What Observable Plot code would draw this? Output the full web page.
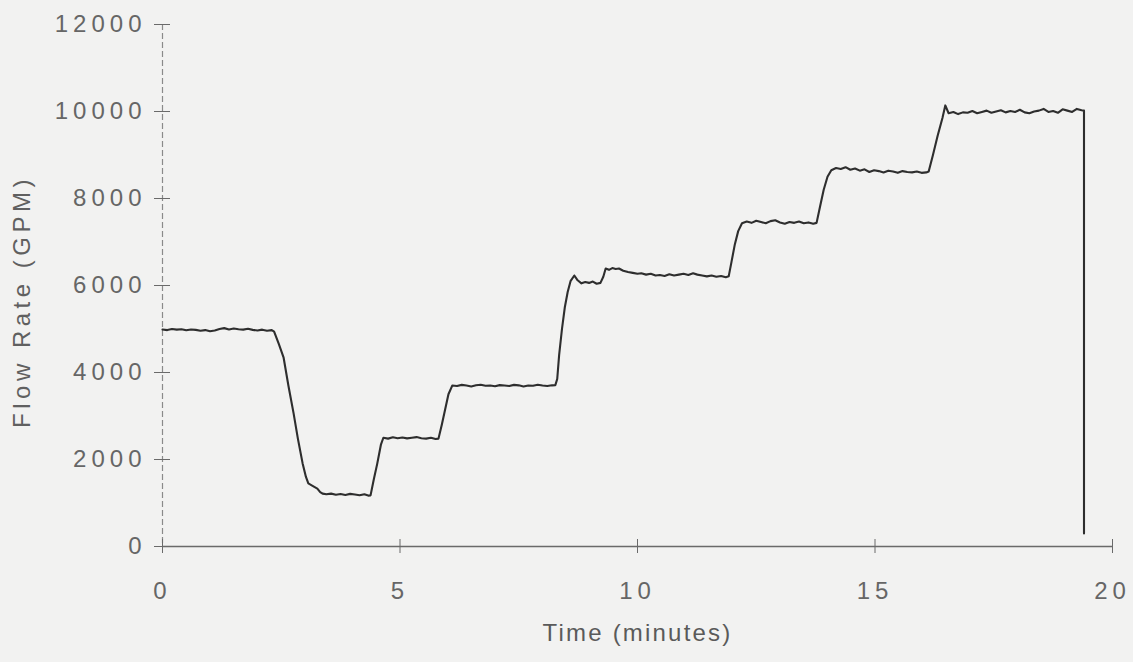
<!DOCTYPE html>
<html>
<head>
<meta charset="utf-8">
<script src="https://cdn.jsdelivr.net/npm/d3@7"></script>
<script src="https://cdn.jsdelivr.net/npm/@observablehq/plot@0.6"></script>
<style>
  html, body { margin: 0; padding: 0; background: #f2f2f1; }
  #chart svg { display: block; }
  g[aria-label="y-axis tick label"] text { letter-spacing: 5px; }
  g[aria-label="x-axis tick label"] text { letter-spacing: 5px; }
</style>
</head>
<body>
<div id="chart"></div>
<script>
// Tick values
const xTicks = [0, 5, 10, 15, 20];
const yTicks = [0, 2000, 4000, 6000, 8000, 10000, 12000];
const xTitle = "Time (minutes)";
const yTitle = "Flow Rate (GPM)";

// Time (minutes)
const timeMin = [
  0.0,0.1,0.2,0.3,0.4,0.5,0.6,0.7,0.8,0.9,1.0,1.1,1.2,1.3,1.4,1.5,1.6,1.7,1.8,1.9,2.0,2.1,2.2,2.3,
  2.35,2.45,2.55,2.65,2.76,2.85,2.95,3.02,3.07,3.15,3.26,3.32,
  3.37,3.45,3.55,3.65,3.75,3.85,3.95,4.05,4.15,4.25,4.33,4.38,
  4.45,4.52,4.60,4.65,
  4.75,4.85,4.95,5.05,5.15,5.25,5.35,5.45,5.55,5.65,5.75,5.81,
  5.88,5.95,6.02,6.10,
  6.2,6.3,6.4,6.5,6.6,6.7,6.8,6.9,7.0,7.1,7.2,7.3,7.4,7.5,7.6,7.7,7.8,7.9,8.0,8.1,8.2,
  8.27,8.31,8.35,8.41,8.47,8.53,8.59,8.67,
  8.74,8.82,8.90,8.98,9.06,9.14,9.22,9.28,9.33,9.40,9.47,9.54,9.61,9.70,9.80,9.90,10.00,10.08,10.18,10.28,
  10.38,10.47,10.57,10.67,10.77,10.87,10.97,11.07,11.17,11.26,11.36,11.46,11.56,11.66,11.76,11.86,11.92,
  11.98,12.05,12.12,12.20,
  12.3,12.4,12.5,12.6,12.7,12.8,12.9,13.0,13.1,13.2,13.3,13.4,13.5,13.6,13.7,13.77,
  13.84,13.92,14.00,14.08,
  14.18,14.28,14.38,14.48,14.58,14.68,14.78,14.88,14.98,15.08,15.18,15.28,15.38,15.48,15.58,15.68,15.78,15.88,15.98,16.08,
  16.13,16.22,16.32,16.42,16.48,
  16.55,16.65,16.75,16.85,16.95,17.05,17.15,17.25,17.35,17.45,17.55,17.65,17.75,17.85,17.95,
  18.05,18.15,18.25,18.35,18.45,18.55,18.65,18.75,18.85,18.95,19.05,19.15,19.25,19.35,19.40,
  19.40
];

// Flow rate (GPM)
const flowGpm = [
  4990,4975,5000,4985,4995,4970,4990,4980,4960,4975,4950,4965,5000,5020,4990,5010,4995,4985,5005,4980,4965,4985,4960,4975,
  4940,4650,4340,3700,3060,2480,1910,1600,1450,1400,1330,1250,
  1215,1200,1215,1190,1205,1185,1210,1195,1180,1200,1170,1175,
  1550,1900,2350,2500,
  2480,2510,2490,2505,2485,2500,2515,2490,2480,2500,2470,2480,
  2800,3150,3500,3700,
  3690,3715,3700,3680,3705,3720,3695,3700,3685,3710,3700,3690,3715,3705,3680,3700,3695,3720,3700,3690,3705,
  3710,3850,4400,5000,5500,5850,6100,6230,
  6120,6050,6080,6060,6090,6040,6060,6200,6390,6360,6400,6380,6390,6340,6310,6290,6270,6280,6250,6270,
  6230,6240,6220,6260,6230,6250,6270,6240,6280,6250,6230,6210,6230,6200,6220,6190,6210,
  6550,6950,7250,7430,
  7470,7440,7490,7460,7430,7480,7500,7450,7420,7460,7440,7470,7430,7450,7420,7440,
  7800,8200,8500,8650,
  8700,8680,8720,8660,8690,8640,8670,8610,8650,8630,8600,8640,8620,8590,8630,8610,8600,8620,8590,8600,
  8620,9000,9450,9850,10140,
  9960,9990,9940,9980,9970,10010,9960,9990,10020,9970,10000,10030,9980,10010,9990,
  10040,9980,9960,10000,10020,10060,9990,10010,9970,10050,10020,9990,10060,10030,10020,
  300
];

const trace = timeMin.map((t, i) => ({t, flow: flowGpm[i]}));

const chart = Plot.plot({
  width: 1133,
  height: 662,
  marginLeft: 162,
  marginRight: 21,
  marginTop: 24,
  marginBottom: 116,
  style: {background: "#f2f2f1", fontFamily: "'Liberation Sans', Arial, sans-serif"},
  x: {domain: [0, 20]},
  y: {domain: [0, 12000]},
  marks: [
    Plot.ruleX([0], {stroke: "#8a8a8a", strokeWidth: 1.2, strokeDasharray: "6 3"}),
    Plot.ruleY([0], {stroke: "#6a6a6a", strokeWidth: 1.3}),
    Plot.axisY({
      ticks: yTicks, tickFormat: d => String(d), tickSize: 16, dx: 8, tickPadding: 8,
      fontSize: 24, stroke: "#6a6a6a", fill: "#666", label: null
    }),
    Plot.axisX({
      ticks: xTicks, tickFormat: d => String(d), tickSize: 14, dy: -7, tickPadding: 28,
      fontSize: 24, stroke: "#6a6a6a", fill: "#666", label: null
    }),
    Plot.line(trace, {x: "t", y: "flow", stroke: "#2e2e2e", strokeWidth: 2.1}),
    Plot.text([yTitle], {frameAnchor: "left", textAnchor: "middle", rotate: -90, dx: -140, dy: 16, fontSize: 24, fill: "#606060"}),
    Plot.text([xTitle], {frameAnchor: "bottom", textAnchor: "middle", dy: 94, fontSize: 24, fill: "#5a5a5a"})
  ]
});

// letter spacing for the axis titles (as in the scanned figure)
d3.select(chart).selectAll("text").each(function () {
  const s = this.textContent;
  if (s === yTitle) this.style.letterSpacing = "4.5px";
  if (s === xTitle) this.style.letterSpacing = "2.2px";
});

document.getElementById("chart").appendChild(chart);
</script>
</body>
</html>
